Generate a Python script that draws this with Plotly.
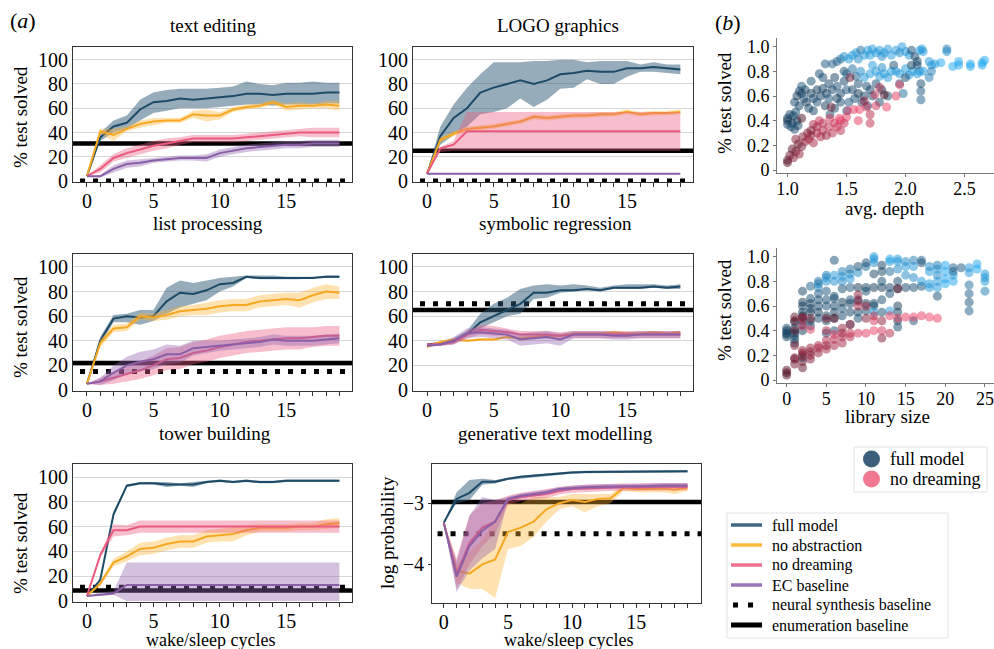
import plotly.graph_objects as go

W, H = 994, 649
SERIF = "Liberation Serif"
ITER = list(range(20))

# ---------------- (a) learning curves ----------------
# list processing
LP_FULL = [4, 36, 45, 48, 59, 65, 66, 68, 67, 68, 69, 70, 72, 72, 71, 72, 72, 72, 73, 73]
LP_FULL_LO = [4, 33, 40, 43, 50, 56, 58, 60, 60, 60, 61, 62, 63, 63, 62, 63, 63, 63, 64, 64]
LP_FULL_HI = [5, 40, 50, 54, 67, 73, 75, 76, 76, 76, 77, 78, 82, 80, 79, 81, 81, 82, 81, 81]
LP_NOABS = [4, 41, 38, 43, 47, 49, 50, 50, 55, 54, 54, 59, 61, 62, 65, 61, 62, 62, 63, 62]
LP_NOABS_SP = [0, 2, 5, 2, 3, 3, 2, 2, 3, 5, 3, 2, 2, 2, 2, 3, 3, 2, 3, 4]
LP_NODREAM = [4, 10, 19, 23, 26, 29, 31, 33, 35, 35, 35, 35, 36, 37, 38, 39, 40, 40, 40, 40]
LP_NODREAM_SP = [0, 3, 3, 4, 4, 4, 4, 3, 3, 3, 3, 3, 3, 3, 3, 3, 3, 4, 4, 4]
LP_EC = [4, 4, 10, 14, 15, 17, 18, 19, 19, 19, 23, 25, 27, 28, 29, 30, 30, 31, 31, 31]
LP_EC_SP = [0, 1, 3, 3, 3, 2, 2, 2, 2, 3, 3, 3, 3, 3, 3, 3, 3, 3, 3, 3]
LP_NEURAL, LP_ENUM = 0, 31

# symbolic regression
SR_FULL = [6, 37, 52, 60, 73, 77, 80, 83, 80, 83, 88, 89, 91, 90, 90, 93, 93, 94, 93, 92]
SR_FULL_LO = [6, 30, 38, 45, 55, 57, 60, 68, 61, 67, 76, 77, 84, 80, 80, 86, 90, 90, 89, 88]
SR_FULL_HI = [6, 45, 63, 77, 88, 98, 98, 98, 99, 99, 100, 100, 98, 99, 99, 99, 96, 98, 96, 96]
SR_NOABS = [6, 34, 39, 43, 44, 45, 47, 49, 53, 52, 53, 54, 54, 55, 55, 57, 55, 56, 56, 57]
SR_NOABS_SP = [0, 2, 2, 2, 2, 2, 2, 2, 2, 2, 2, 2, 2, 2, 2, 2, 2, 2, 2, 2]
SR_NODREAM = [6, 27, 30, 41, 41, 41, 41, 41, 41, 41, 41, 41, 41, 41, 41, 41, 41, 41, 41, 41]
SR_NODREAM_LO = [6, 24, 25, 25, 25, 25, 25, 25, 25, 25, 25, 25, 25, 25, 25, 25, 25, 25, 25, 25]
SR_NODREAM_HI = [6, 28, 33, 57, 57, 57, 57, 57, 57, 57, 57, 57, 57, 57, 57, 57, 57, 57, 57, 57]
SR_EC = [6, 6, 6, 6, 6, 6, 6, 6, 6, 6, 6, 6, 6, 6, 6, 6, 6, 6, 6, 6]
SR_NEURAL, SR_ENUM = 0, 25

# tower building
TB_FULL = [5, 40, 58, 60, 59, 60, 72, 79, 78, 81, 86, 87, 92, 91, 91, 91, 91, 91, 92, 92]
TB_FULL_LO = [5, 37, 55, 55, 53, 56, 62, 67, 70, 73, 80, 84, 91, 90, 90, 90, 90, 91, 91, 91]
TB_FULL_HI = [5, 43, 61, 62, 65, 65, 83, 89, 87, 89, 91, 92, 93, 93, 93, 92, 92, 92, 93, 93]
TB_NOABS = [5, 38, 50, 51, 60, 59, 61, 64, 65, 66, 68, 69, 69, 72, 73, 74, 73, 77, 80, 79]
TB_NOABS_SP = [0, 3, 3, 3, 3, 3, 4, 4, 4, 5, 5, 5, 5, 5, 5, 5, 6, 6, 6, 5]
TB_NODREAM = [5, 7, 10, 13, 16, 20, 25, 26, 30, 32, 35, 37, 39, 40, 41, 42, 42, 43, 44, 44]
TB_NODREAM_SP = [0, 3, 5, 6, 7, 8, 9, 9, 9, 9, 9, 9, 9, 9, 9, 9, 9, 8, 8, 8]
TB_EC = [5, 7, 14, 20, 23, 25, 29, 29, 34, 35, 36, 37, 38, 39, 41, 40, 40, 40, 41, 42]
TB_EC_SP = [0, 3, 6, 7, 8, 8, 8, 7, 6, 5, 4, 4, 4, 4, 4, 4, 4, 4, 4, 4]
TB_NEURAL, TB_ENUM = 15, 22

# generative text modelling
GT_FULL = [37, 38, 40, 45, 55, 60, 65, 70, 79, 79, 81, 81, 82, 81, 83, 83, 83, 84, 83, 84]
GT_FULL_LO = [36, 37, 38, 44, 50, 55, 60, 62, 74, 75, 79, 80, 81, 80, 82, 82, 82, 83, 82, 82]
GT_FULL_HI = [38, 39, 42, 48, 62, 70, 75, 82, 85, 86, 85, 86, 85, 83, 85, 86, 86, 86, 85, 86]
GT_NOABS = [35, 39, 41, 40, 41, 41, 43, 42, 43, 44, 44, 46, 46, 46, 47, 46, 46, 47, 46, 47]
GT_NOABS_SP = [1, 1, 1, 1, 1, 1, 1, 1, 1, 1, 1, 1, 1, 1, 1, 1, 1, 1, 1, 1]
GT_NODREAM = [37, 37, 39, 45, 49, 48, 47, 45, 45, 45, 44, 45, 45, 45, 45, 45, 45, 45, 45, 45]
GT_NODREAM_SP = [1, 1, 2, 3, 4, 4, 3, 3, 3, 3, 3, 3, 3, 3, 3, 3, 3, 3, 3, 3]
GT_EC = [36, 37, 40, 46, 47, 46, 45, 41, 42, 43, 41, 45, 45, 45, 44, 44, 45, 45, 45, 45]
GT_EC_SP = [1, 1, 3, 4, 4, 4, 4, 5, 5, 5, 5, 3, 3, 3, 3, 3, 3, 3, 3, 3]
GT_NEURAL, GT_ENUM = 70, 65

# wake/sleep cycles (bottom left)
WS_FULL = [4, 17, 70, 93, 95, 95, 94, 94, 94, 96, 97, 96, 97, 96, 96, 97, 97, 97, 97, 97]
WS_FULL_SP = [0, 1, 2, 1, 1, 1, 2, 1, 2, 1, 1, 1, 1, 1, 1, 1, 1, 1, 1, 1]
WS_NOABS = [4, 14, 31, 36, 42, 43, 46, 48, 48, 52, 53, 54, 57, 59, 59, 59, 60, 60, 62, 63]
WS_NOABS_SP = [0, 2, 3, 4, 5, 5, 5, 5, 5, 5, 5, 6, 4, 3, 3, 3, 3, 3, 4, 4]
WS_NODREAM = [4, 37, 57, 57, 60, 60, 60, 60, 60, 60, 60, 60, 60, 60, 60, 60, 60, 60, 60, 60]
WS_NODREAM_LO = [4, 35, 52, 53, 55, 55, 55, 55, 55, 55, 55, 55, 55, 55, 55, 55, 55, 55, 55, 55]
WS_NODREAM_HI = [4, 39, 62, 61, 65, 65, 65, 65, 65, 65, 65, 65, 65, 65, 65, 65, 65, 65, 65, 65]
WS_EC = [4, 5, 6, 13, 13, 13, 13, 13, 13, 13, 13, 13, 13, 13, 13, 13, 13, 13, 13, 13]
WS_EC_LO = [4, 4, 5, 0, 0, 0, 0, 0, 0, 0, 0, 0, 0, 0, 0, 0, 0, 0, 0, 0]
WS_EC_HI = [4, 7, 8, 31, 31, 31, 31, 31, 31, 31, 31, 31, 31, 31, 31, 31, 31, 31, 31, 31]
WS_NEURAL, WS_ENUM = 11, 8.5

# log probability (wake/sleep)
LG_FULL = [-3.32, -2.93, -2.83, -2.65, -2.65, -2.60, -2.57, -2.55, -2.53, -2.52, -2.50, -2.49, -2.49, -2.48, -2.49, -2.49, -2.48, -2.49, -2.48, -2.48]
LG_FULL_LO = [-3.32, -3.0, -2.95, -2.7, -2.68, -2.62, -2.59, -2.57, -2.55, -2.54, -2.52, -2.51, -2.51, -2.50, -2.51, -2.51, -2.50, -2.51, -2.50, -2.50]
LG_FULL_HI = [-3.32, -2.82, -2.62, -2.6, -2.62, -2.58, -2.55, -2.53, -2.51, -2.50, -2.48, -2.47, -2.47, -2.46, -2.47, -2.47, -2.46, -2.47, -2.46, -2.46]
LG_NOABS = [-3.32, -4.1, -4.15, -4.0, -3.92, -3.47, -3.4, -3.3, -3.1, -3.0, -2.95, -2.98, -2.93, -2.92, -2.75, -2.77, -2.77, -2.76, -2.78, -2.75]
LG_NOABS_LO = [-3.32, -4.3, -4.4, -4.4, -4.55, -3.75, -3.7, -3.55, -3.3, -3.1, -3.05, -3.15, -3.05, -3.0, -2.8, -2.82, -2.82, -2.82, -2.85, -2.8]
LG_NOABS_HI = [-3.32, -4.0, -3.8, -3.6, -3.25, -3.0, -3.0, -2.9, -2.9, -2.9, -2.85, -2.85, -2.85, -2.85, -2.7, -2.72, -2.72, -2.7, -2.72, -2.7]
LG_NODREAM = [-3.32, -4.15, -3.65, -3.4, -3.3, -2.95, -2.9, -2.87, -2.85, -2.8, -2.77, -2.76, -2.75, -2.74, -2.74, -2.74, -2.73, -2.73, -2.73, -2.73]
LG_NODREAM_LO = [-3.32, -4.4, -4.0, -3.7, -3.5, -3.02, -2.97, -2.94, -2.92, -2.86, -2.83, -2.82, -2.81, -2.8, -2.8, -2.8, -2.79, -2.79, -2.79, -2.79]
LG_NODREAM_HI = [-3.32, -3.9, -3.2, -3.0, -2.95, -2.88, -2.83, -2.8, -2.78, -2.74, -2.71, -2.7, -2.69, -2.68, -2.68, -2.68, -2.67, -2.67, -2.67, -2.67]
LG_EC = [-3.32, -4.2, -3.7, -3.45, -3.3, -2.93, -2.88, -2.85, -2.82, -2.77, -2.75, -2.74, -2.73, -2.73, -2.72, -2.72, -2.72, -2.71, -2.71, -2.71]
LG_EC_LO = [-3.32, -4.45, -4.1, -3.9, -3.75, -2.97, -2.92, -2.89, -2.86, -2.81, -2.79, -2.78, -2.77, -2.77, -2.76, -2.76, -2.76, -2.75, -2.75, -2.75]
LG_EC_HI = [-3.32, -3.95, -3.2, -2.9, -2.95, -2.89, -2.84, -2.81, -2.78, -2.73, -2.71, -2.70, -2.69, -2.69, -2.68, -2.68, -2.68, -2.67, -2.67, -2.67]
LG_NEURAL, LG_ENUM = -3.5, -2.98

# ---------------- (b) scatter: (x, y, iteration shade 0..1) ----------------
DEPTH_FULL = [
    (1.0, 0.40, 0.1), (1.0, 0.37, 0.2), (1.0, 0.42, 0.05), (1.02, 0.45, 0.2), (1.04, 0.38, 0.1), (1.05, 0.44, 0.2),
    (1.07, 0.47, 0.3), (1.08, 0.40, 0.1), (1.06, 0.33, 0.2), (1.03, 0.35, 0.3), (1.09, 0.36, 0.2),
    (1.06, 0.55, 0.2), (1.08, 0.60, 0.1), (1.1, 0.52, 0.2), (1.12, 0.62, 0.1), (1.14, 0.58, 0.3), (1.15, 0.65, 0.2),
    (1.12, 0.68, 0.4), (1.18, 0.50, 0.2), (1.2, 0.62, 0.1), (1.2, 0.72, 0.3), (1.16, 0.55, 0.1), (1.1, 0.64, 0.15),
    (1.22, 0.58, 0.2), (1.25, 0.65, 0.1), (1.25, 0.55, 0.3), (1.28, 0.60, 0.15), (1.3, 0.66, 0.2), (1.3, 0.75, 0.3),
    (1.32, 0.52, 0.1), (1.33, 0.62, 0.15), (1.35, 0.70, 0.2), (1.35, 0.58, 0.4), (1.27, 0.78, 0.3), (1.22, 0.48, 0.2),
    (1.32, 0.86, 0.4), (1.38, 0.86, 0.5), (1.42, 0.88, 0.5), (1.45, 0.90, 0.6), (1.48, 0.92, 0.8), (1.4, 0.75, 0.2),
    (1.42, 0.68, 0.3), (1.45, 0.62, 0.2), (1.45, 0.55, 0.3), (1.48, 0.72, 0.2), (1.5, 0.65, 0.4), (1.5, 0.78, 0.6),
    (1.38, 0.65, 0.2), (1.42, 0.58, 0.1), (1.36, 0.45, 0.3), (1.4, 0.50, 0.3), (1.48, 0.80, 0.3),
    (1.52, 0.90, 0.9), (1.55, 0.93, 0.9), (1.58, 0.95, 0.9), (1.6, 0.90, 0.8), (1.62, 0.97, 0.6), (1.65, 0.93, 0.9),
    (1.68, 0.97, 0.9), (1.7, 0.93, 0.9), (1.55, 0.82, 0.6), (1.58, 0.76, 0.5), (1.6, 0.70, 0.3), (1.62, 0.80, 0.8),
    (1.65, 0.75, 0.9), (1.67, 0.68, 0.3), (1.7, 0.78, 0.9), (1.55, 0.65, 0.2), (1.57, 0.58, 0.3), (1.6, 0.62, 0.1),
    (1.63, 0.55, 0.3), (1.65, 0.60, 0.2), (1.68, 0.52, 0.3), (1.52, 0.55, 0.4), (1.5, 0.48, 0.7), (1.7, 0.65, 0.2),
    (1.72, 0.98, 0.9), (1.75, 0.95, 0.9), (1.78, 0.97, 0.9), (1.8, 0.92, 0.8), (1.82, 0.95, 0.9), (1.85, 0.98, 0.9),
    (1.88, 0.93, 0.9), (1.72, 0.85, 0.9), (1.75, 0.80, 0.9), (1.78, 0.76, 0.9), (1.8, 0.83, 0.8), (1.82, 0.78, 0.9),
    (1.85, 0.75, 0.9), (1.88, 0.80, 0.9), (1.9, 0.85, 0.3), (1.75, 0.70, 0.3), (1.8, 0.65, 0.2), (1.85, 0.60, 0.3),
    (1.72, 0.60, 0.3), (1.78, 0.55, 0.3),
    (1.92, 0.97, 0.9), (1.95, 0.95, 0.8), (1.97, 1.0, 0.9), (2.0, 0.96, 0.9), (2.03, 0.93, 0.9), (2.05, 0.97, 0.3),
    (2.08, 0.92, 0.2), (2.1, 0.88, 0.2), (2.12, 0.97, 0.9), (2.14, 0.98, 0.9), (2.15, 0.96, 0.9), (1.92, 0.80, 0.9),
    (1.95, 0.78, 0.9), (2.0, 0.82, 0.9), (2.03, 0.77, 0.9), (2.06, 0.80, 0.9), (2.1, 0.78, 0.9), (2.12, 0.80, 0.9),
    (1.95, 0.70, 0.3), (2.0, 0.75, 0.3), (2.05, 0.85, 0.2), (2.1, 0.85, 0.3), (2.13, 0.70, 0.3), (2.13, 0.64, 0.4),
    (2.13, 0.57, 0.5), (2.15, 0.80, 0.9), (1.98, 0.62, 0.6),
    (2.2, 0.88, 0.9), (2.22, 0.85, 0.9), (2.25, 0.86, 0.9), (2.2, 0.75, 0.7), (2.22, 0.80, 0.7), (2.3, 0.87, 1.0),
    (2.35, 0.98, 0.7), (2.35, 0.96, 0.8), (2.4, 0.84, 1.0), (2.45, 0.85, 1.0), (2.45, 0.88, 1.0), (2.55, 0.86, 1.0),
    (2.55, 0.84, 1.0), (2.65, 0.87, 1.0), (2.65, 0.85, 1.0), (2.67, 0.89, 1.0),
]
DEPTH_NODREAM = [
    (1.0, 0.06, 0.0), (1.0, 0.08, 0.1), (1.02, 0.12, 0.2), (1.04, 0.17, 0.1), (1.05, 0.10, 0.3), (1.07, 0.15, 0.2),
    (1.09, 0.21, 0.1), (1.1, 0.13, 0.4), (1.07, 0.25, 0.3), (1.12, 0.19, 0.2), (1.13, 0.27, 0.3), (1.15, 0.23, 0.4),
    (1.17, 0.30, 0.3), (1.12, 0.42, 0.0),
    (1.18, 0.25, 0.5), (1.2, 0.28, 0.4), (1.22, 0.22, 0.5), (1.25, 0.30, 0.6), (1.25, 0.35, 0.5), (1.28, 0.27, 0.5),
    (1.3, 0.32, 0.6), (1.3, 0.38, 0.6), (1.33, 0.28, 0.4), (1.35, 0.35, 0.7), (1.22, 0.37, 0.5), (1.27, 0.40, 0.7),
    (1.2, 0.32, 0.3),
    (1.38, 0.30, 0.6), (1.4, 0.38, 0.7), (1.42, 0.35, 0.8), (1.45, 0.40, 0.8), (1.48, 0.38, 0.7), (1.5, 0.43, 0.9),
    (1.45, 0.32, 0.6), (1.36, 0.42, 0.8), (1.37, 0.51, 0.2), (1.44, 0.42, 1.0), (1.51, 0.48, 0.8), (1.56, 0.49, 0.9),
    (1.61, 0.49, 1.0), (1.53, 0.75, 0.2),
    (1.6, 0.40, 0.9), (1.67, 0.51, 0.8), (1.75, 0.52, 0.8), (1.84, 0.51, 1.0), (1.7, 0.38, 0.7), (1.74, 0.61, 0.8),
    (1.78, 0.67, 0.6), (1.82, 0.61, 0.0), (1.92, 0.60, 0.9), (1.95, 0.69, 1.0), (1.65, 0.56, 0.4), (1.7, 0.45, 0.6),
]
LIB_FULL = [
    (0, 0.35, 0.1), (0, 0.38, 0.1), (0, 0.40, 0.05), (0, 0.42, 0.2), (0, 0.37, 0.3),
    (1, 0.33, 0.2), (1, 0.38, 0.1), (1, 0.42, 0.1), (1, 0.47, 0.2), (1, 0.36, 0.3), (1, 0.30, 0.3),
    (2, 0.40, 0.1), (2, 0.45, 0.1), (2, 0.52, 0.2), (2, 0.55, 0.1), (2, 0.60, 0.2), (2, 0.63, 0.1), (2, 0.72, 0.2),
    (2, 0.18, 0.2), (2, 0.48, 0.3),
    (3, 0.48, 0.2), (3, 0.55, 0.1), (3, 0.58, 0.2), (3, 0.62, 0.1), (3, 0.66, 0.3), (3, 0.76, 0.5), (3, 0.44, 0.3),
    (4, 0.50, 0.2), (4, 0.55, 0.1), (4, 0.60, 0.2), (4, 0.65, 0.3), (4, 0.70, 0.4), (4, 0.75, 0.7), (4, 0.78, 0.8),
    (4, 0.80, 0.6),
    (5, 0.48, 0.1), (5, 0.52, 0.2), (5, 0.60, 0.3), (5, 0.65, 0.3), (5, 0.72, 0.4), (5, 0.80, 0.8), (5, 0.83, 0.9),
    (5, 0.85, 0.7), (5, 0.38, 0.3),
    (6, 0.40, 0.3), (6, 0.50, 0.1), (6, 0.60, 0.2), (6, 0.66, 0.3), (6, 0.68, 0.3), (6, 0.80, 0.8), (6, 0.85, 0.9),
    (6, 0.97, 0.3), (6, 0.55, 0.2),
    (7, 0.52, 0.2), (7, 0.58, 0.3), (7, 0.63, 0.1), (7, 0.74, 0.3), (7, 0.80, 0.8), (7, 0.84, 0.9), (7, 0.88, 0.7),
    (8, 0.45, 0.3), (8, 0.55, 0.2), (8, 0.62, 0.1), (8, 0.65, 0.3), (8, 0.75, 0.4), (8, 0.82, 0.9), (8, 0.86, 0.8),
    (8, 0.90, 0.6),
    (9, 0.50, 0.3), (9, 0.55, 0.2), (9, 0.65, 0.3), (9, 0.75, 0.1), (9, 0.87, 0.8), (9, 0.92, 0.3),
    (10, 0.56, 0.3), (10, 0.62, 0.2), (10, 0.72, 0.3), (10, 0.75, 0.2), (10, 0.92, 0.6), (10, 0.95, 0.3),
    (11, 0.60, 0.3), (11, 0.62, 0.2), (11, 0.75, 0.1), (11, 0.86, 0.2), (11, 0.95, 0.8), (11, 0.98, 0.9),
    (11, 1.0, 0.9), (11, 0.55, 0.9),
    (12, 0.55, 0.3), (12, 0.65, 0.3), (12, 0.75, 0.1), (12, 0.80, 0.3), (12, 0.88, 0.2), (12, 0.93, 0.2),
    (13, 0.56, 0.9), (13, 0.70, 0.3), (13, 0.75, 0.2), (13, 0.88, 0.6), (13, 0.96, 0.9), (13, 0.98, 1.0),
    (14, 0.43, 0.3), (14, 0.48, 0.3), (14, 0.55, 0.2), (14, 0.60, 0.1), (14, 0.74, 0.2), (14, 0.80, 0.3),
    (14, 0.90, 0.8), (14, 0.96, 0.9), (14, 0.98, 0.9),
    (15, 0.75, 0.2), (15, 0.85, 0.8), (15, 0.92, 0.9), (15, 0.96, 0.8),
    (16, 0.48, 0.4), (16, 0.75, 0.3), (16, 0.83, 0.8), (16, 0.92, 0.9), (16, 0.97, 0.7),
    (17, 0.76, 0.3), (17, 0.80, 0.9), (17, 0.95, 0.3), (17, 0.97, 0.5),
    (18, 0.75, 0.9), (18, 0.78, 0.9), (18, 0.88, 0.9), (18, 0.92, 0.8),
    (19, 0.68, 0.3), (19, 0.75, 0.9), (19, 0.80, 0.9), (19, 0.85, 0.8), (19, 0.90, 0.9), (19, 0.93, 0.7),
    (20, 0.78, 1.0), (20, 0.82, 1.0), (20, 0.88, 1.0), (20, 0.93, 1.0),
    (21, 0.80, 1.0), (21, 0.85, 0.9), (21, 0.88, 0.6), (21, 0.91, 0.5),
    (22, 0.91, 0.4),
    (23, 0.56, 0.5), (23, 0.63, 0.4), (23, 0.70, 0.5), (23, 0.77, 0.6), (23, 0.87, 0.9), (23, 0.91, 0.9),
    (24, 0.90, 1.0), (24, 0.94, 1.0),
    (25, 0.72, 0.7), (25, 0.80, 0.9), (25, 0.83, 0.9), (25, 0.86, 0.9),
]
LIB_NODREAM = [
    (0, 0.04, 0.0), (0, 0.06, 0.0), (0, 0.08, 0.1),
    (1, 0.13, 0.2), (1, 0.17, 0.1), (1, 0.18, 0.3), (1, 0.28, 0.3), (1, 0.40, 0.1), (1, 0.48, 0.2), (1, 0.51, 0.1),
    (2, 0.10, 0.1), (2, 0.15, 0.2), (2, 0.20, 0.3), (2, 0.22, 0.2), (2, 0.24, 0.4), (2, 0.44, 0.8), (2, 0.50, 0.6),
    (2, 0.51, 0.2),
    (3, 0.17, 0.3), (3, 0.20, 0.4), (3, 0.23, 0.3), (3, 0.26, 0.4), (3, 0.41, 0.9), (3, 0.50, 0.2),
    (4, 0.22, 0.4), (4, 0.26, 0.5), (4, 0.28, 0.5),
    (5, 0.25, 0.5), (5, 0.28, 0.4), (5, 0.32, 0.6), (5, 0.40, 0.6), (5, 0.50, 0.3),
    (6, 0.28, 0.5), (6, 0.33, 0.6), (6, 0.37, 0.9), (6, 0.50, 0.2),
    (7, 0.30, 0.5), (7, 0.35, 0.6), (7, 0.38, 0.5), (7, 0.42, 0.4),
    (8, 0.35, 0.6), (8, 0.38, 0.7), (8, 0.45, 0.5),
    (9, 0.38, 0.8), (9, 0.60, 0.5), (9, 0.64, 0.3), (9, 0.69, 0.4),
    (10, 0.38, 0.9), (10, 0.50, 0.3), (10, 0.60, 0.4),
    (11, 0.40, 1.0), (11, 0.48, 0.8), (11, 0.52, 0.6),
    (12, 0.34, 0.3), (12, 0.40, 0.8), (12, 0.48, 0.4),
    (13, 0.38, 0.6), (13, 0.52, 0.9),
    (14, 0.50, 0.8), (14, 0.74, 0.2),
    (15, 0.51, 0.9), (16, 0.51, 1.0), (17, 0.52, 0.9), (18, 0.51, 1.0), (19, 0.50, 1.0),
]

PCT_TICKS = [0, 20, 40, 60, 80, 100]
FRAC_TICKS = [0, 0.2, 0.4, 0.6, 0.8, 1.0]
FRAC_LABELS = ["0", "0.2", "0.4", "0.6", "0.8", "1.0"]
DEPTH_TICKS = [1.0, 1.5, 2.0, 2.5]
DEPTH_LABELS = ["1.0", "1.5", "2.0", "2.5"]
LIB_TICKS = [0, 5, 10, 15, 20, 25]
LOG_TICKS = [-4, -3]
LOG_LABELS = ["\u22124", "\u22123"]

LINE_LEGEND = ["full model", "no abstraction", "no dreaming", "EC baseline",
               "neural synthesis baseline", "enumeration baseline"]
SCATTER_LEGEND = ["full model", "no dreaming"]

# ---------------- styling ----------------
C_FULL, F_FULL = "#1d4a66", "rgba(45,90,120,0.5)"
C_NOABS, F_NOABS = "#f7a823", "rgba(255,178,45,0.38)"
C_NODREAM, F_NODREAM = "#ea5a7e", "rgba(236,95,130,0.4)"
C_EC, F_EC = "#8a5fa8", "rgba(145,100,175,0.4)"
BLUE_SCALE = [[0, "#0a2c48"], [0.5, "#1a5c88"], [1, "#1ba5ee"]]
RED_SCALE = [[0, "#4a0a1c"], [0.5, "#a3203f"], [1, "#f03e64"]]
TICKFONT = dict(family=SERIF, size=20, color="black")
SC_TICKFONT = dict(family=SERIF, size=18, color="black")
LABEL_SIZE = 19
DOTS = "5px,8px"

fig = go.Figure()


def ax_names(n):
    return ("x" if n == 1 else f"x{n}"), ("y" if n == 1 else f"y{n}")


def band(n, lo, hi, color):
    xa, ya = ax_names(n)
    fig.add_trace(go.Scatter(x=ITER + ITER[::-1], y=list(hi) + list(lo)[::-1], fill="toself",
                             fillcolor=color, line=dict(width=0), mode="lines", hoverinfo="skip",
                             showlegend=False, xaxis=xa, yaxis=ya))


def curve(n, ys, color, name):
    xa, ya = ax_names(n)
    fig.add_trace(go.Scatter(x=ITER, y=ys, mode="lines", line=dict(color=color, width=2),
                             name=name, showlegend=False, xaxis=xa, yaxis=ya))


def baselines(n, neural, enum):
    xa, ya = ax_names(n)
    fig.add_trace(go.Scatter(x=[-1.5, 20.5], y=[enum, enum], mode="lines",
                             line=dict(color="black", width=4.5), name="enumeration baseline",
                             showlegend=False, xaxis=xa, yaxis=ya))
    fig.add_trace(go.Scatter(x=[-1.5, 20.5], y=[neural, neural], mode="lines",
                             line=dict(color="black", width=5, dash=DOTS), name="neural synthesis baseline",
                             showlegend=False, xaxis=xa, yaxis=ya))


def spread(m, s, sign):
    return [a + sign * b for a, b in zip(m, s)]


PANELS = [
    (1, LP_NEURAL, LP_ENUM, (LP_FULL, LP_FULL_LO, LP_FULL_HI),
     (LP_NOABS, spread(LP_NOABS, LP_NOABS_SP, -1), spread(LP_NOABS, LP_NOABS_SP, 1)),
     (LP_NODREAM, spread(LP_NODREAM, LP_NODREAM_SP, -1), spread(LP_NODREAM, LP_NODREAM_SP, 1)),
     (LP_EC, spread(LP_EC, LP_EC_SP, -1), spread(LP_EC, LP_EC_SP, 1))),
    (2, SR_NEURAL, SR_ENUM, (SR_FULL, SR_FULL_LO, SR_FULL_HI),
     (SR_NOABS, spread(SR_NOABS, SR_NOABS_SP, -1), spread(SR_NOABS, SR_NOABS_SP, 1)),
     (SR_NODREAM, SR_NODREAM_LO, SR_NODREAM_HI),
     (SR_EC, SR_EC, SR_EC)),
    (3, TB_NEURAL, TB_ENUM, (TB_FULL, TB_FULL_LO, TB_FULL_HI),
     (TB_NOABS, spread(TB_NOABS, TB_NOABS_SP, -1), spread(TB_NOABS, TB_NOABS_SP, 1)),
     (TB_NODREAM, spread(TB_NODREAM, TB_NODREAM_SP, -1), spread(TB_NODREAM, TB_NODREAM_SP, 1)),
     (TB_EC, spread(TB_EC, TB_EC_SP, -1), spread(TB_EC, TB_EC_SP, 1))),
    (4, GT_NEURAL, GT_ENUM, (GT_FULL, GT_FULL_LO, GT_FULL_HI),
     (GT_NOABS, spread(GT_NOABS, GT_NOABS_SP, -1), spread(GT_NOABS, GT_NOABS_SP, 1)),
     (GT_NODREAM, spread(GT_NODREAM, GT_NODREAM_SP, -1), spread(GT_NODREAM, GT_NODREAM_SP, 1)),
     (GT_EC, spread(GT_EC, GT_EC_SP, -1), spread(GT_EC, GT_EC_SP, 1))),
    (5, WS_NEURAL, WS_ENUM, (WS_FULL, spread(WS_FULL, WS_FULL_SP, -1), spread(WS_FULL, WS_FULL_SP, 1)),
     (WS_NOABS, spread(WS_NOABS, WS_NOABS_SP, -1), spread(WS_NOABS, WS_NOABS_SP, 1)),
     (WS_NODREAM, WS_NODREAM_LO, WS_NODREAM_HI),
     (WS_EC, WS_EC_LO, WS_EC_HI)),
    (6, LG_NEURAL, LG_ENUM, (LG_FULL, LG_FULL_LO, LG_FULL_HI),
     (LG_NOABS, LG_NOABS_LO, LG_NOABS_HI),
     (LG_NODREAM, LG_NODREAM_LO, LG_NODREAM_HI),
     (LG_EC, LG_EC_LO, LG_EC_HI)),
]

for n, neural, enum, full, noabs, nodream, ec in PANELS:
    baselines(n, neural, enum)
    for (m, lo, hi), c, f, name in [(full, C_FULL, F_FULL, LINE_LEGEND[0]),
                                     (noabs, C_NOABS, F_NOABS, LINE_LEGEND[1]),
                                     (nodream, C_NODREAM, F_NODREAM, LINE_LEGEND[2]),
                                     (ec, C_EC, F_EC, LINE_LEGEND[3])]:
        band(n, lo, hi, f)
        curve(n, m, c, name)


def scatter(n, pts, scale, name):
    xa, ya = ax_names(n)
    xs = [p[0] for p in pts]
    ys = [p[1] for p in pts]
    shade = [p[2] for p in pts]
    fig.add_trace(go.Scatter(x=xs, y=ys, mode="markers", showlegend=False, hoverinfo="skip", name=name,
                             marker=dict(size=9, color=shade, colorscale=scale, cmin=0, cmax=1,
                                         opacity=0.5, line=dict(width=0)),
                             xaxis=xa, yaxis=ya))


scatter(7, DEPTH_FULL, BLUE_SCALE, SCATTER_LEGEND[0])
scatter(7, DEPTH_NODREAM, RED_SCALE, SCATTER_LEGEND[1])
scatter(8, LIB_FULL, BLUE_SCALE, SCATTER_LEGEND[0])
scatter(8, LIB_NODREAM, RED_SCALE, SCATTER_LEGEND[1])

# ---------------- axes ----------------
BOXES = {  # left, right, top, bottom (px)
    1: (73, 352, 47, 182), 2: (413, 693, 47, 182),
    3: (73, 352, 254, 391), 4: (413, 693, 254, 391),
    5: (73, 352, 464, 602), 6: (432, 701, 464, 603),
    7: (777, 994, 38, 173), 8: (777, 994, 248, 383),
}
layout = {}
for n, (l, r, t, b) in BOXES.items():
    xk = "xaxis" if n == 1 else f"xaxis{n}"
    yk = "yaxis" if n == 1 else f"yaxis{n}"
    xa, ya = ax_names(n)
    xd = dict(domain=[l / W, r / W], anchor=ya, showgrid=False, zeroline=False, tickfont=TICKFONT,
              ticks="outside", ticklen=4, tickcolor="#333", showline=True, linecolor="#333", linewidth=1,
              automargin=False)
    yd = dict(domain=[1 - b / H, 1 - t / H], anchor=xa, zeroline=False, tickfont=TICKFONT,
              showline=True, linecolor="#333", linewidth=1, automargin=False)
    if n <= 6:
        xd.update(mirror=True, tickvals=ITER, ticktext=[str(i) if i % 5 == 0 else "" for i in ITER],
                  ticklabelstandoff=-3)
        yd.update(mirror=True, ticks="")
        if n == 6:
            xd.update(range=[-0.92, 20.05])
            yd.update(range=[-4.63, -2.36], tickvals=LOG_TICKS, ticktext=LOG_LABELS, showgrid=False,
                      ticks="outside", ticklen=3, tickcolor="#333")
        else:
            xd.update(range=[-1.05, 19.95])
            yd.update(range=[-0.8, 110.5], tickvals=PCT_TICKS, showgrid=True, gridcolor="#d6d6d6",
                      gridwidth=1)
    else:
        xd.update(linecolor="#777", tickcolor="#777", tickfont=SC_TICKFONT, ticklen=3,
                  ticklabelstandoff=-4, ticklabeloverflow="allow")
        yd.update(linecolor="#777", tickcolor="#777", ticks="outside", ticklen=3, showgrid=False,
                  tickfont=SC_TICKFONT, range=[-0.024, 1.07], tickvals=FRAC_TICKS, ticktext=FRAC_LABELS)
        if n == 7:
            xd.update(range=[0.911, 2.75], tickvals=DEPTH_TICKS, ticktext=DEPTH_LABELS)
        else:
            xd.update(range=[-1.22, 26.14], tickvals=LIB_TICKS)
    layout[xk] = xd
    layout[yk] = yd

# ---------------- text ----------------
TEXTS = [
    ("(<i>a</i>)", 23, 21, 0, 22), ("text editing", 213, 25, 0, LABEL_SIZE),
    ("LOGO graphics", 558, 25, 0, LABEL_SIZE),
    ("list processing", 208, 223, 0, LABEL_SIZE), ("symbolic regression", 555, 223, 0, LABEL_SIZE),
    ("tower building", 215, 433, 0, LABEL_SIZE), ("generative text modelling", 555, 433, 0, LABEL_SIZE),
    ("wake/sleep cycles", 210, 640, 0, 18), ("wake/sleep cycles", 568, 640, 0, 18),
    ("% test solved", 20, 117, -90, LABEL_SIZE), ("% test solved", 20, 327, -90, LABEL_SIZE),
    ("% test solved", 20, 543, -90, LABEL_SIZE), ("log probability", 387, 533, -90, LABEL_SIZE),
    ("(<i>b</i>)", 728, 22, 0, 22), ("% test solved", 725, 103, -90, LABEL_SIZE),
    ("avg. depth", 885, 208, 0, LABEL_SIZE),
    ("% test solved", 725, 310, -90, LABEL_SIZE), ("library size", 887, 416, 0, LABEL_SIZE),
]


def px(x, y):
    return x / W, 1 - y / H


annotations = []
for t, x, y, a, s in TEXTS:
    ax_, ay_ = px(x, y)
    annotations.append(dict(text=t, x=ax_, y=ay_, xref="paper", yref="paper", xanchor="center",
                            yanchor="middle", showarrow=False, textangle=a,
                            font=dict(family=SERIF, size=s, color="black")))

shapes = []
# ---- line-style legend (box, samples, labels) ----
LEG_BOX = (727, 948, 513, 638)
x0, y0 = px(LEG_BOX[0], LEG_BOX[3])
x1, y1 = px(LEG_BOX[1], LEG_BOX[2])
shapes.append(dict(type="rect", xref="paper", yref="paper", x0=x0, x1=x1, y0=y0, y1=y1,
                   line=dict(color="#e2e2e2", width=1), fillcolor="white", layer="above"))
LEG_STYLES = [dict(color="#3f6784", width=3.5), dict(color="#ffb93c", width=3.5),
              dict(color="#f07090", width=3.5), dict(color="#9a76b8", width=3.5),
              dict(color="black", width=5, dash="5px,10px"), dict(color="black", width=5)]
for i, (label, st) in enumerate(zip(LINE_LEGEND, LEG_STYLES)):
    yc = 525 + 20 * i
    sx0, sy = px(731 if i != 4 else 733, yc)
    sx1, _ = px(762, yc)
    shapes.append(dict(type="line", xref="paper", yref="paper", x0=sx0, x1=sx1, y0=sy, y1=sy,
                       line=st, layer="above"))
    tx, ty = px(770, yc)
    annotations.append(dict(text=label, x=tx, y=ty, xref="paper", yref="paper", xanchor="left",
                            yanchor="middle", showarrow=False,
                            font=dict(family=SERIF, size=16, color="black")))

# ---- scatter legend ----
SC_BOX = (854, 987, 447, 492)
x0, y0 = px(SC_BOX[0], SC_BOX[3])
x1, y1 = px(SC_BOX[1], SC_BOX[2])
shapes.append(dict(type="rect", xref="paper", yref="paper", x0=x0, x1=x1, y0=y0, y1=y1,
                   line=dict(color="#e2e2e2", width=1), fillcolor="white", layer="above"))
for i, (label, col) in enumerate(zip(SCATTER_LEGEND, ["#3d607a", "#f07891"])):
    yc = 459 + 20 * i
    cx0, cy0 = px(863, yc + 8.5)
    cx1, cy1 = px(880, yc - 8.5)
    shapes.append(dict(type="circle", xref="paper", yref="paper", x0=cx0, x1=cx1, y0=cy0, y1=cy1,
                       line=dict(width=0), fillcolor=col, layer="above"))
    tx, ty = px(888, yc)
    annotations.append(dict(text=label, x=tx, y=ty, xref="paper", yref="paper", xanchor="left",
                            yanchor="middle", showarrow=False,
                            font=dict(family=SERIF, size=18, color="black")))

fig.update_layout(
    width=W, height=H, margin=dict(l=0, r=0, t=0, b=0),
    paper_bgcolor="white", plot_bgcolor="white", font=dict(family=SERIF, color="black"),
    showlegend=False, annotations=annotations, shapes=shapes,
    **layout,
)

fig.write_html("out.html", config={"displayModeBar": False},
               post_script="document.body.style.margin='0';document.body.style.overflow='hidden';")
